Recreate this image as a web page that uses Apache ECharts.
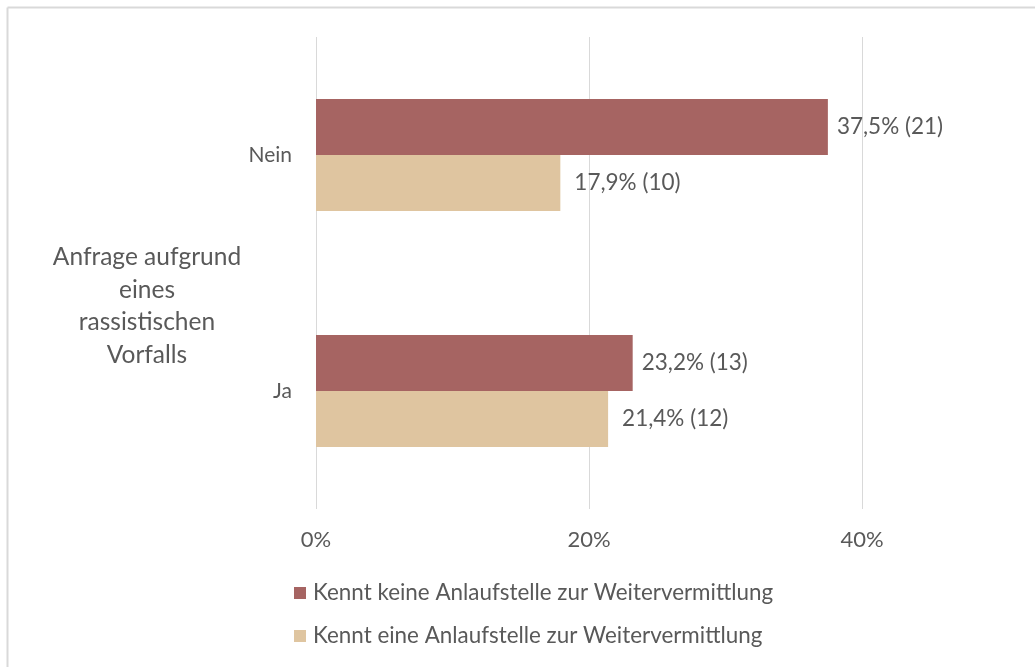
<!DOCTYPE html>
<html>
<head>
<meta charset="utf-8">
<script src="https://cdn.jsdelivr.net/npm/echarts@6/dist/echarts.min.js"></script>
<style>
  html, body { margin: 0; padding: 0; background: #fff; }
  #chart { width: 1035px; height: 667px; }
</style>
</head>
<body>
<div id="chart"></div>
<script>
// data
const categories = ['Ja', 'Nein'];
const seriesNames = [
  'Kennt keine Anlaufstelle zur Weitervermittlung',
  'Kennt eine Anlaufstelle zur Weitervermittlung'
];
const keinePct = [23.2, 37.5];
const keineN = [13, 21];
const einePct = [21.4, 17.9];
const eineN = [12, 10];
const xTicks = [0, 20, 40];

const textColor = '#595959';
const font = 'Lato, Carlito, sans-serif';

function pctLabel(counts) {
  return (p) => String(p.value).replace('.', ',') + '% (' + counts[p.dataIndex] + ')';
}

const chart = echarts.init(document.getElementById('chart'), null, { renderer: 'canvas' });

chart.setOption({
  animation: false,
  backgroundColor: '#fff',
  grid: { left: 316, right: 173, top: 37, bottom: 158 },
  xAxis: {
    type: 'value',
    min: xTicks[0],
    max: xTicks[xTicks.length - 1],
    interval: 20,
    axisLine: { show: false },
    axisTick: { show: false },
    axisLabel: {
      margin: 20,
      color: textColor,
      fontFamily: font,
      fontSize: 22,
      formatter: '{value}%'
    },
    splitLine: { lineStyle: { color: '#D9D9D9', width: 1 } }
  },
  yAxis: {
    type: 'category',
    data: categories,
    axisLine: { show: false },
    axisTick: { show: false },
    axisLabel: { margin: 24, color: textColor, fontFamily: font, fontSize: 21 }
  },
  legend: {
    orient: 'vertical',
    left: 294,
    top: 582,
    padding: 0,
    itemWidth: 12,
    itemHeight: 12,
    itemGap: 21,
    icon: 'rect',
    textStyle: { color: textColor, fontFamily: font, fontSize: 22.4, lineHeight: 22, padding: [0, 0, 0, 2] },
    data: seriesNames
  },
  series: [
    {
      name: seriesNames[0],
      type: 'bar',
      data: keinePct,
      barGap: '0%',
      barCategoryGap: '52.5%',
      itemStyle: { color: '#A66462' },
      label: {
        show: true,
        position: 'right',
        distance: 9,
        color: textColor,
        fontFamily: font,
        fontSize: 22.5,
        formatter: pctLabel(keineN)
      }
    },
    {
      name: seriesNames[1],
      type: 'bar',
      data: einePct,
      barGap: '0%',
      barCategoryGap: '52.5%',
      itemStyle: { color: '#DFC5A0' },
      label: {
        show: true,
        position: 'right',
        distance: 14,
        color: textColor,
        fontFamily: font,
        fontSize: 22.5,
        formatter: pctLabel(eineN)
      }
    }
  ],
  graphic: [
    {
      type: 'line',
      shape: { x1: 7.5, y1: 7.5, x2: 1035, y2: 7.5 },
      style: { stroke: '#D9D9D9', lineWidth: 2 }
    },
    {
      type: 'line',
      shape: { x1: 7.5, y1: 7.5, x2: 7.5, y2: 667 },
      style: { stroke: '#D9D9D9', lineWidth: 2 }
    },
    {
      type: 'text',
      x: 147,
      y: 306,
      style: {
        text: 'Anfrage aufgrund\neines\nrassistischen\nVorfalls',
        align: 'center',
        verticalAlign: 'middle',
        lineHeight: 32.5,
        fill: textColor,
        font: '24.5px ' + font
      }
    }
  ]
});
</script>
</body>
</html>
